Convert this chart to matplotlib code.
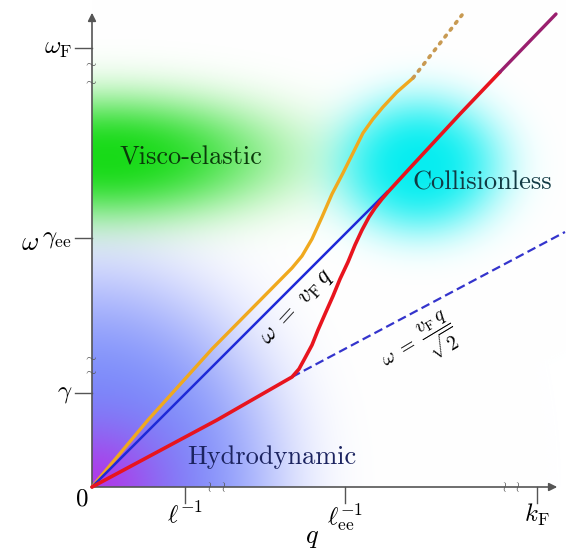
import numpy as np
import matplotlib.pyplot as plt

plt.rcParams['mathtext.fontset'] = 'cm'

# schematic units: q and omega (arbitrary)
# axis ticks
q_ticks = [0.93, 2.53, 4.45]
q_tick_labels = [r'$\ell^{-1}$', r'$\ell_{\rm ee}^{-1}$', r'$k_{\rm F}$']
w_ticks = [0.94, 2.49, 4.39]
w_tick_labels = [r'$\gamma$', r'$\gamma_{\rm ee}$', r'$\omega_{\rm F}$']
q_breaks = [1.18, 1.32, 4.13, 4.26]
w_breaks = [1.17, 1.31, 4.07, 4.25]

# curves
q_blue = [0.0, 2.95]
w_blue = [0.0, 2.95]

q_orange = [0.0, 0.56, 1.20, 2.00, 2.10, 2.20, 2.30, 2.40, 2.51, 2.62, 2.71, 2.81, 2.91, 3.05, 3.21]
w_orange = [0.0, 0.67, 1.38, 2.19, 2.31, 2.48, 2.70, 2.93, 3.14, 3.36, 3.54, 3.68, 3.80, 3.95, 4.09]
q_orange_dot = [3.21, 3.70]
w_orange_dot = [4.09, 4.72]

q_red = [0.0, 1.25, 2.00, 2.07, 2.13, 2.20, 2.26, 2.33, 2.41, 2.48, 2.56, 2.63, 2.70, 2.77,
         2.83, 2.90, 2.96, 3.07, 3.18, 3.68, 4.08]
w_red = [0.0, 0.67, 1.10, 1.18, 1.29, 1.42, 1.57, 1.73, 1.91, 2.08, 2.25, 2.42, 2.57, 2.70,
         2.79, 2.88, 2.95, 3.07, 3.19, 3.73, 4.15]
q_red_top = [4.08, 4.64]
w_red_top = [4.15, 4.73]

q_dash = [2.00, 4.73]
w_dash = [1.10, 2.55]

fig = plt.figure(figsize=(5.66, 5.49), dpi=100)
ax = fig.add_axes([0, 0, 1, 1])
ax.set_xlim(-0.92, 4.74)
ax.set_ylim(-0.62, 4.87)
ax.axis('off')

# coloured regions, blended over white
xx, yy = np.meshgrid(np.linspace(-0.92, 4.74, 566), np.linspace(-0.62, 4.87, 549))
img = np.ones(xx.shape + (3,))
inside = (xx >= 0) & (yy >= 0)


def blend(alpha, color):
    global img
    a = (alpha * inside)[..., None]
    img = img * (1 - a) + np.array(color) * a


r = np.sqrt((xx / 1.9) ** 2 + (yy / 2.15) ** 2)
blend(0.9 * np.exp(-r ** 4), (0.40, 0.48, 0.98))
r = np.sqrt((xx / 0.7) ** 2 + (yy / 0.6) ** 2)
blend(0.85 * np.exp(-r ** 2), (0.72, 0.18, 0.90))
r = np.sqrt(((xx - 0.15) / 1.7) ** 2 + ((yy - 3.3) / 0.62) ** 2)
blend(0.95 * np.exp(-r ** 2.6), (0.05, 0.85, 0.05))
r = np.sqrt(((xx - 3.28) / 0.82) ** 2 + ((yy - 3.22) / 0.68) ** 2)
blend(0.97 * np.exp(-r ** 3), (0.0, 0.93, 0.94))

ax.imshow(img, extent=(-0.92, 4.74, -0.62, 4.87), origin='lower', aspect='auto', zorder=0)

# axes with arrows
axc = '#555555'
ax.annotate('', xy=(4.68, 0), xytext=(-0.01, 0),
            arrowprops=dict(arrowstyle='-|>', color=axc, lw=1.2, mutation_scale=12))
ax.annotate('', xy=(0, 4.77), xytext=(0, -0.01),
            arrowprops=dict(arrowstyle='-|>', color=axc, lw=1.2, mutation_scale=12))

for q, lab in zip(q_ticks, q_tick_labels):
    ax.plot([q, q], [0, -0.16], color=axc, lw=1.0)
    ax.text(q, -0.15, lab, ha='center', va='top', fontsize=18)
for w, lab in zip(w_ticks, w_tick_labels):
    ax.plot([-0.17, 0], [w, w], color=axc, lw=1.0)
    ax.text(-0.2, w, lab, ha='right', va='center', fontsize=18)
ax.text(-0.1, -0.11, r'$0$', ha='center', va='center', fontsize=18)
ax.text(-0.62, 2.44, r'$\omega$', ha='center', va='center', fontsize=19)
ax.text(2.2, -0.5, r'$q$', ha='center', va='center', fontsize=19)

for q in q_breaks:
    ax.text(q, 0.0, r'$\wr$', ha='center', va='center', fontsize=10, color=axc)
for w in w_breaks:
    ax.text(-0.02, w, r'$\sim$', ha='center', va='center', fontsize=10, color=axc)

# curves
ax.plot(q_orange, w_orange, color='#f0a91e', lw=2.4, solid_capstyle='round', zorder=3)
ax.plot(q_orange_dot, w_orange_dot, color='#c89a52', lw=2.6, linestyle=(0, (0.6, 1.8)),
        dash_capstyle='round', zorder=3)
ax.plot(q_blue, w_blue, color='#1e2ad8', lw=1.8, zorder=3)
ax.plot(q_dash, w_dash, color='#3434cc', lw=1.6, linestyle=(0, (4, 2)), zorder=3)
ax.plot(q_red, w_red, color='#e8141e', lw=2.6, solid_capstyle='round', zorder=4)
ax.plot(q_red_top, w_red_top, color='#9a1f6e', lw=2.4, solid_capstyle='round', zorder=4)

ax.text(2.05, 1.80, r'$\omega\ =\ v_{\rm F}\,q$', rotation=47, ha='center', va='center',
        fontsize=17, zorder=5)
ax.text(3.28, 1.40, r'$\omega\ =\ \dfrac{v_{\rm F}\,q}{\sqrt{2}}$', rotation=31,
        ha='center', va='center', fontsize=14, zorder=5)

ax.text(0.99, 3.29, 'Visco-elastic', fontfamily='cmr10', fontsize=19, color='#0a3a0a',
        ha='center', va='center', zorder=5)
ax.text(3.90, 3.04, 'Collisionless', fontfamily='cmr10', fontsize=19, color='#123a44',
        ha='center', va='center', zorder=5)
ax.text(1.80, 0.30, 'Hydrodynamic', fontfamily='cmr10', fontsize=19, color='#1c2460',
        ha='center', va='center', zorder=5)

fig.savefig('out.png', dpi=100)
